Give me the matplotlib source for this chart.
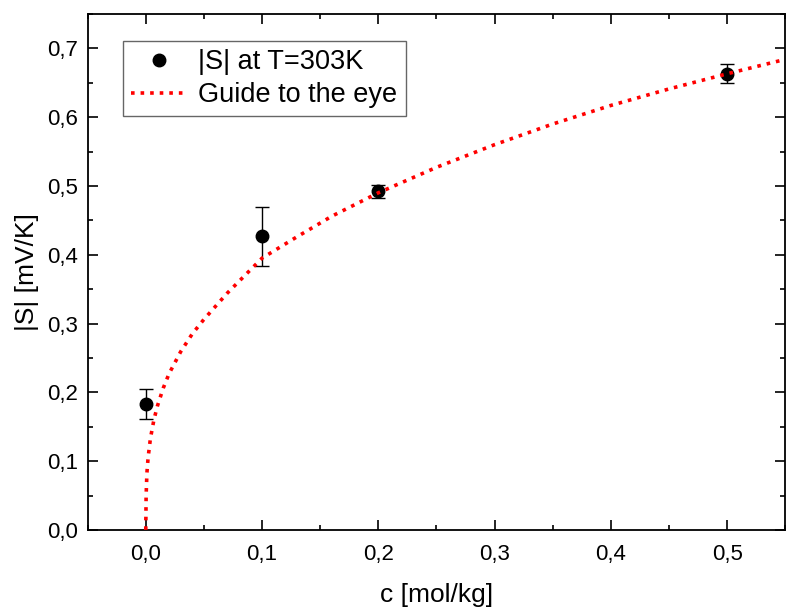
import matplotlib.pyplot as plt
from matplotlib.lines import Line2D
from matplotlib.ticker import MultipleLocator, FuncFormatter

plt.rcParams['font.family'] = ['Liberation Sans', 'DejaVu Sans']

# measured points
conc = [0.0, 0.1, 0.2, 0.5]
seebeck = [0.183, 0.427, 0.492, 0.663]
seebeck_err = [0.022, 0.043, 0.010, 0.014]

# guide to the eye
guide_c = [0.0, 0.0003, 0.001, 0.002, 0.004, 0.007, 0.01, 0.015, 0.02, 0.03,
           0.04, 0.05, 0.07, 0.1, 0.13, 0.16, 0.2, 0.25, 0.3, 0.35, 0.4,
           0.45, 0.5, 0.55]
guide_s = [0.0, 0.05, 0.083, 0.105, 0.133, 0.160, 0.180, 0.206, 0.227, 0.259,
           0.285, 0.306, 0.344, 0.395, 0.426, 0.456, 0.490, 0.527, 0.560,
           0.590, 0.617, 0.641, 0.663, 0.684]

fig = plt.figure(figsize=(7.86, 6.07), dpi=100)
ax = fig.add_axes([0.1115, 0.127, 0.8875, 0.850])

ax.plot(guide_c, guide_s, ':', color='red', lw=2.6, zorder=3)
ax.errorbar(conc, seebeck, yerr=seebeck_err, fmt='o', color='black', ms=9,
            ecolor='black', elinewidth=1, capsize=5, capthick=1, zorder=2)

ax.set_xlim(-0.05, 0.55)
ax.set_ylim(0, 0.75)
ax.xaxis.set_major_locator(MultipleLocator(0.1))
ax.xaxis.set_minor_locator(MultipleLocator(0.05))
ax.yaxis.set_major_locator(MultipleLocator(0.1))
ax.yaxis.set_minor_locator(MultipleLocator(0.05))
comma = FuncFormatter(lambda v, p: ('%.1f' % v).replace('.', ','))
ax.xaxis.set_major_formatter(comma)
ax.yaxis.set_major_formatter(comma)

ax.tick_params(which='both', direction='in', top=True, right=True,
               labelsize=16, width=1.2)
ax.tick_params(which='major', length=7)
ax.tick_params(which='minor', length=3.5)
ax.tick_params(axis='x', pad=10)
ax.tick_params(axis='y', pad=7)

for s in ax.spines.values():
    s.set_linewidth(1.3)

ax.set_xlabel('c [mol/kg]', fontsize=19, labelpad=13)
ax.set_ylabel('|S| [mV/K]', fontsize=19, labelpad=6)

handles = [Line2D([], [], ls='none', marker='o', color='black', ms=9),
           Line2D([], [], ls=':', color='red', lw=2.6)]
labels = ['|S| at T=303K', 'Guide to the eye']
leg = ax.legend(handles, labels, loc='upper left', bbox_to_anchor=(0.05, 0.947),
                fontsize=19.5, fancybox=False, framealpha=1, edgecolor='#666666',
                handlelength=2.1, borderpad=0.3, labelspacing=0.25,
                handletextpad=0.4, borderaxespad=0)
leg.get_frame().set_linewidth(1)

plt.savefig('out.png', dpi=100)
